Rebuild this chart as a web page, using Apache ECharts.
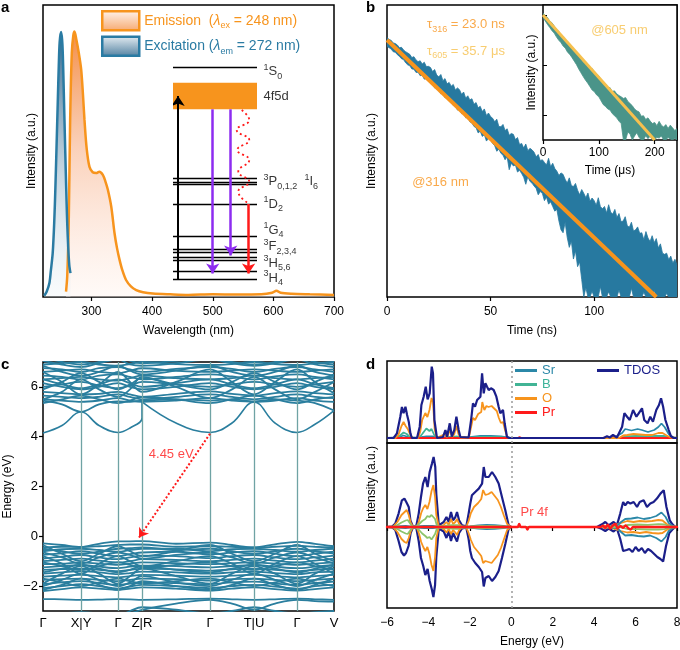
<!DOCTYPE html>
<html>
<head>
<meta charset="utf-8">
<script src="https://cdn.jsdelivr.net/npm/echarts@6/dist/echarts.min.js"></script>
<style>html,body{margin:0;padding:0;background:#fff}#chart{width:680px;height:650px}</style>
</head>
<body>
<div id="chart"></div>
<script>
const FONT = 'Liberation Sans, Arial, Helvetica, sans-serif';
const ORANGE = '#F7941D', BLUE = '#2779A0', YELLOW = '#F6C04E', TEAL = '#4A9489';
const BAND = '#2A7E9E', RED = '#FF1A1A', PURPLE = '#8D2CF0', NAVY = '#1B1F8A';

// ---- a: excitation / emission spectra (wavelength nm, normalised intensity)
const emission = [[258,0.02],[260,0.08],[262.5,0.29],[264.8,0.67],[267.5,0.92],[270,0.985],[272,1.0],[275,0.97],[279,0.92],[283,0.857],[286,0.76],[288.4,0.668],[292,0.56],[296.7,0.49],[302,0.47],[307.7,0.467],[313,0.472],[318.7,0.46],[323,0.435],[327,0.404],[332.6,0.34],[338,0.24],[342,0.185],[346.3,0.14],[351,0.1],[357,0.064],[365,0.04],[373.8,0.026],[385,0.018],[401,0.013],[430,0.01],[460,0.008],[500,0.01],[540,0.009],[580,0.01],[598,0.016],[605,0.024],[612,0.016],[630,0.012],[660,0.01],[700,0.008]];
const excitation = [[222,0.005],[226,0.02],[230.6,0.053],[233,0.1],[236,0.165],[238.5,0.28],[240.5,0.416],[242.5,0.58],[244.3,0.73],[246,0.87],[247.5,0.96],[249.8,0.998],[251.5,0.97],[252.6,0.92],[254,0.8],[255.4,0.668],[256.8,0.54],[258.2,0.416],[259.5,0.31],[260.8,0.228],[262.2,0.16],[263.6,0.114],[265.3,0.09]];
const wlTicks = [300, 400, 500, 600, 700];

// energy level scheme (arbitrary height units)
const levelHeights = [217.5, 106.5, 103, 100.5, 81, 49, 35.7, 33, 27.7, 24.8, 14, 5.3];
const band4f5d = [175.7, 202.3];
const levelText = ['{p|1}S{b|0}', '4f5d', '{p|3}P{b|0,1,2}  {p|1}I{b|6}', '{p|1}D{b|2}', '{p|1}G{b|4}', '{p|3}F{b|2,3,4}', '{p|3}H{b|5,6}', '{p|3}H{b|4}'];
const labelHeights = [213.3, 188.3, 103.3, 81, 55, 38.3, 21.7, 6.7];
const arrowX = [6, 47.3, 68.7, 90];
const arrowFrom = [5.3, 175.7, 175.7, 81];
const arrowTo = [189, 11.5, 29.5, 11.5];
const arrowColor = ['#000', PURPLE, PURPLE, RED];
const zigX = [81.8, 90.8, 75.8, 90.8, 76.6, 90.8, 77.7, 90.8, 77.7, 89.6];
const zigY = [175, 165, 155, 145, 135, 125, 113.3, 103.3, 93.3, 81.7];

// ---- b: decay curves (log intensity shown on a 0-100 scale)
const upper316 = [88.8,88.2,87.9,87.0,86.8,86.3,85.4,85.5,84.6,84.0,83.6,
  83.1,82.0,82.3,81.2,80.6,80.9,79.8,80.4,78.9,79.0,
  78.6,77.2,77.9,76.0,75.4,76.2,74.1,74.8,73.0,73.5,
  72.2,72.8,70.9,71.6,71.0,69.4,70.2,68.1,68.9,67.5,
  67.9,66.0,66.6,64.8,65.3,63.5,64.4,62.2,63.0,61.8,
  61.2,60.0,60.9,58.4,58.3,59.1,57.0,57.6,55.4,56.0,
  55.7,53.9,54.6,52.2,52.6,51.0,52.4,50.1,50.9,50.4,
  49.6,48.0,48.8,46.7,47.0,46.1,45.2,47.5,44.6,45.8,
  44.0,43.1,41.6,42.5,42.0,40.3,39.0,40.8,38.2,37.8,
  38.9,36.6,35.0,36.8,35.5,34.0,35.6,32.8,33.9,33.0,
  31.4,34.0,31.0,30.2,31.0,28.8,31.6,29.0,28.4,30.0,
  27.2,28.6,25.8,26.0,27.5,24.4,23.9,25.6,22.6,23.0,
  24.0,21.8,22.0,19.6,22.4,20.2,19.0,21.0,18.6,20.0,
  16.8,18.2,15.0,14.6,15.0,12.8,14.0,11.6,12.9,11.0];
const lower316 = [85.8,85.4,84.9,84.0,83.8,83.0,82.4,81.6,81.3,80.2,79.5,
  79.2,78.1,78.0,76.9,77.0,75.8,75.9,74.6,74.8,74.0,
  73.2,72.9,71.6,71.8,70.9,69.6,70.0,68.2,68.4,67.5,
  67.0,65.6,66.0,64.0,64.4,62.8,63.0,61.4,61.9,60.0,
  59.6,58.4,58.0,56.2,56.8,55.0,55.6,53.4,54.3,53.8,
  52.6,51.8,49.9,50.6,49.2,48.6,47.0,48.0,43.6,45.8,
  44.9,45.2,42.8,43.4,42.3,41.0,38.6,41.2,39.6,39.0,
  38.0,37.2,35.0,36.1,35.5,33.0,34.2,31.8,32.6,31.0,
  29.4,30.0,26.0,23.0,22.0,25.6,20.4,17.0,19.2,13.0,
  15.8,10.4,12.0,6.0,0,3.2,0,0,2.0,0,
  0,0,3.6,0,0,0,1.8,0,0,0, 0,2.4,0,0,0,0,0,3.0,0,0,
  0,0,0,1.6,0,0,0,0,2.2,0, 0,0,0,0,1.2,0,0,0,0,0];
const fit316T = [0, 130], fit316Y = [88, 0];
const ticks316 = [0, 50, 100];
const upper605 = [94.0,92.2,90.8,88.0,86.9,84.5,82.0,80.6,77.9,76.8,
  74.2,72.0,70.8,68.1,67.2,65.0,62.2,60.9,57.6,57.0,
  54.4,52.8,53.0,50.2,48.9,47.4,44.6,43.0,41.8,39.0,
  38.8,36.0,36.4,34.2,33.0,32.0,30.8,31.4,28.6,27.0,
  25.4,23.0,21.6,20.8,17.6,18.0,15.2,16.4,14.0,12.2,
  13.0,10.6,13.8,11.0,9.6,11.4,8.6,11.0,9.0,7.0,8.4];
const lower605 = [90.4,88.2,85.6,83.4,81.0,79.2,76.4,74.0,72.2,69.6,
  68.0,65.0,63.4,61.0,58.4,55.8,52.6,49.8,47.0,44.4,
  42.2,39.6,37.0,35.8,33.4,32.0,29.0,26.2,24.8,23.0,
  22.2,19.6,18.0,16.4,14.0,12.2,0,0,6.0,4.2,
  0,3.0,5.4,2.0,0,0,3.2,1.0,2.8,0,
  0,2.0,1.4,3.0,0,0,1.8,0.8,0,1.2,0];
const fit605T = [0, 200], fit605Y = [92.6, 0];
const ticks605 = [0, 100, 200];

// ---- c: band structure (k path positions, energies in eV)
const kPos = [0, 38, 75, 99, 167, 211, 254, 291];
const kNames = ['Γ', 'X|Y', 'Γ', 'Z|R', 'Γ', 'T|U', 'Γ', 'V'];
const kS = [0, 19, 38, 56, 75, 87, 99, 133, 167, 189, 211, 232, 254, 272, 291];
const kCB = [0, 19, 38, 56, 75, 87, 99, 99, 133, 167, 189, 211, 232, 254, 272, 291];
const lowestCB = [4.15, 4.45, 5.0, 4.45, 4.17, 4.35, 4.75, 5.4, 4.55, 4.17, 4.55, 5.4, 4.55, 4.17, 4.5, 5.05];
const valenceBands = [
  [-0.28,-0.35,-0.43,-0.3,-0.2,-0.2,-0.19,-0.3,-0.25,-0.35,-0.45,-0.32,-0.22,-0.3,-0.4],
  [-0.45,-0.42,-0.43,-0.4,-0.35,-0.33,-0.33,-0.42,-0.4,-0.42,-0.45,-0.42,-0.38,-0.42,-0.45],
  [-0.6,-0.52,-0.5,-0.55,-0.62,-0.55,-0.5,-0.5,-0.6,-0.52,-0.5,-0.55,-0.62,-0.55,-0.5],
  [-0.75,-0.68,-0.6,-0.7,-0.8,-0.72,-0.65,-0.62,-0.72,-0.65,-0.6,-0.7,-0.8,-0.7,-0.62],
  [-0.9,-0.82,-0.75,-0.85,-0.92,-0.85,-0.78,-0.8,-0.88,-0.8,-0.75,-0.85,-0.92,-0.85,-0.78],
  [-1.0,-0.95,-0.9,-0.98,-1.05,-1.0,-0.92,-0.95,-1.0,-0.95,-0.9,-0.98,-1.05,-0.98,-0.9],
  [-1.12,-1.1,-1.05,-1.1,-1.15,-1.1,-1.05,-1.08,-1.12,-1.08,-1.05,-1.1,-1.15,-1.1,-1.05],
  [-1.25,-1.2,-1.15,-1.22,-1.28,-1.22,-1.18,-1.2,-1.25,-1.2,-1.15,-1.22,-1.28,-1.22,-1.15],
  [-1.35,-1.32,-1.3,-1.35,-1.4,-1.35,-1.3,-1.33,-1.38,-1.33,-1.3,-1.35,-1.4,-1.35,-1.3],
  [-1.5,-1.45,-1.4,-1.45,-1.52,-1.48,-1.42,-1.45,-1.5,-1.45,-1.42,-1.48,-1.52,-1.45,-1.42],
  [-1.62,-1.58,-1.55,-1.6,-1.65,-1.6,-1.55,-1.58,-1.62,-1.58,-1.55,-1.6,-1.65,-1.6,-1.55],
  [-1.75,-1.72,-1.7,-1.75,-1.8,-1.75,-1.7,-1.72,-1.78,-1.72,-1.7,-1.75,-1.8,-1.75,-1.7],
  [-1.92,-1.85,-1.8,-1.88,-1.95,-1.9,-1.85,-1.88,-1.92,-1.85,-1.82,-1.9,-1.95,-1.88,-1.82],
  [-2.08,-2.0,-1.92,-2.0,-2.1,-2.02,-1.95,-2.0,-2.08,-2.0,-1.95,-2.02,-2.1,-2.0,-1.95],
  [-2.2,-2.12,-2.05,-2.1,-2.15,-2.1,-2.05,-2.1,-2.18,-2.1,-2.05,-2.12,-2.18,-2.12,-2.05],
  [-0.35,-0.7,-1.0,-0.7,-0.4,-0.6,-0.8,-0.6,-0.35,-0.7,-1.0,-0.7,-0.35,-0.7,-1.0],
  [-1.9,-1.5,-1.2,-1.5,-1.9,-1.6,-1.3,-1.6,-1.9,-1.5,-1.2,-1.5,-1.9,-1.5,-1.2],
  [-0.8,-1.1,-1.5,-1.1,-0.8,-1.0,-1.2,-1.0,-0.8,-1.1,-1.5,-1.1,-0.8,-1.1,-1.5],
  [-2.15,-1.95,-1.7,-1.95,-2.15,-2.0,-1.8,-2.0,-2.15,-1.95,-1.7,-1.95,-2.15,-1.95,-1.7],
  [-0.5,-0.6,-0.7,-0.62,-0.5,-0.48,-0.45,-0.55,-0.5,-0.6,-0.7,-0.6,-0.5,-0.6,-0.7],
  [-1.05,-1.2,-1.35,-1.2,-1.05,-1.15,-1.25,-1.15,-1.05,-1.2,-1.35,-1.2,-1.05,-1.2,-1.35],
  [-1.45,-1.3,-1.15,-1.3,-1.45,-1.35,-1.2,-1.35,-1.45,-1.3,-1.15,-1.3,-1.45,-1.3,-1.15],
  [-1.7,-1.85,-2.0,-1.85,-1.7,-1.8,-1.9,-1.8,-1.7,-1.85,-2.0,-1.85,-1.7,-1.85,-2.0],
  [-0.65,-0.85,-1.1,-0.85,-0.65,-0.75,-0.9,-0.75,-0.65,-0.85,-1.1,-0.85,-0.65,-0.85,-1.1],
  [-2.0,-1.75,-1.5,-1.75,-2.0,-1.85,-1.6,-1.85,-2.0,-1.75,-1.5,-1.75,-2.0,-1.75,-1.5],
  [-2.52,-2.53,-2.55,-2.54,-2.52,-2.53,-2.55,-2.53,-2.5,-2.53,-2.55,-2.53,-2.5,-2.53,-2.55],
  [-3.2,-3.1,-3.05,-3.1,-3.2,-3.0,-2.85,-2.95,-3.1,-3.0,-2.85,-3.0,-3.1,-3.05,-3.0],
  [-3.3,-3.2,-3.1,-3.2,-3.3,-3.1,-2.95,-2.7,-2.55,-2.7,-2.95,-2.7,-2.55,-2.6,-2.62]
];
const conductionBands = [
  [5.45,5.3,5.0,5.3,5.42,5.4,5.45,5.5,5.45,5.5,5.42,5.5,5.45,5.35,5.05],
  [5.5,5.45,5.4,5.45,5.55,5.45,5.4,5.45,5.55,5.45,5.4,5.45,5.55,5.45,5.4],
  [5.65,5.6,5.55,5.6,5.7,5.6,5.5,5.6,5.7,5.6,5.5,5.6,5.7,5.6,5.55],
  [5.8,5.75,5.7,5.72,5.8,5.7,5.6,5.72,5.82,5.72,5.65,5.75,5.82,5.75,5.7],
  [6.0,6.1,6.2,6.05,5.95,6.05,6.2,6.1,6.0,6.1,6.2,6.1,6.0,6.1,6.2],
  [6.15,6.0,5.9,6.0,6.15,6.0,5.9,6.0,6.15,6.0,5.9,6.0,6.15,6.0,5.9],
  [6.3,6.35,6.4,6.3,6.25,6.35,6.45,6.35,6.3,6.35,6.45,6.35,6.3,6.35,6.4],
  [6.45,6.4,6.3,6.45,6.5,6.4,6.3,6.4,6.5,6.42,6.3,6.42,6.5,6.4,6.3],
  [6.6,6.65,6.7,6.6,6.55,6.65,6.75,6.65,6.6,6.65,6.7,6.65,6.6,6.65,6.7],
  [6.75,6.7,6.6,6.75,6.8,6.7,6.6,6.72,6.8,6.72,6.6,6.72,6.8,6.7,6.6],
  [6.9,6.95,7.0,6.9,6.85,6.92,7.0,6.92,6.88,6.92,7.0,6.92,6.88,6.95,7.0],
  [7.05,6.9,6.8,6.95,7.1,6.9,6.85,6.95,7.1,6.95,6.85,6.95,7.1,6.9,6.8],
  [5.5,5.8,6.3,5.9,5.6,5.9,6.4,6.0,5.55,5.9,6.4,5.9,5.5,5.8,6.2],
  [6.6,6.2,5.7,6.1,6.6,6.2,5.8,6.2,6.7,6.2,5.7,6.2,6.7,6.2,5.75],
  [5.35,5.5,5.65,5.5,5.35,5.45,5.6,5.5,5.35,5.5,5.65,5.5,5.35,5.5,5.6],
  [6.3,6.1,5.95,6.1,6.3,6.15,6.0,6.15,6.3,6.1,5.95,6.1,6.3,6.1,5.95],
  [6.85,6.6,6.45,6.6,6.85,6.65,6.5,6.65,6.85,6.6,6.45,6.6,6.85,6.6,6.45],
  [5.9,6.2,6.55,6.2,5.9,6.1,6.35,6.1,5.9,6.2,6.55,6.2,5.9,6.2,6.5],
  [7.2,7.0,6.9,7.0,7.2,7.05,6.95,7.05,7.2,7.0,6.9,7.0,7.2,7.0,6.9]
];
const gapArrowK = [167, 96], gapArrowE = [4.12, -0.05];

// ---- d: density of states [energy eV, states]
const dosTopTDOS = [[-6,0],[-5.68,0],[-5.52,4.7],[-5.36,21],[-5.28,31],[-5.2,24.7],[-5.11,31.3],[-5.03,23],[-4.95,16.3],[-4.87,4.7],[-4.8,0],[-4.55,0],[-4.42,11.3],[-4.34,33],[-4.23,41.3],[-4.13,51.3],[-4.04,38.7],[-3.94,44.7],[-3.84,71.3],[-3.78,64.7],[-3.71,18],[-3.59,0],[-3.3,1],[-3.18,8],[-3.1,1],[-2.97,14.7],[-2.87,1.5],[-2.75,8],[-2.65,21.3],[-2.54,8],[-2.46,1],[-2.06,0.5],[-1.94,18],[-1.85,34.7],[-1.75,31.3],[-1.65,38],[-1.49,41.3],[-1.41,64.7],[-1.33,44.7],[-1.25,54.7],[-1.17,51.3],[-1.09,48],[-0.98,49.7],[-0.85,48],[-0.72,41.3],[-0.61,31.3],[-0.53,24.7],[-0.4,28],[-0.32,14.7],[-0.21,1.3],[-0.1,0],[4.46,0],[4.62,1.7],[4.75,0.5],[4.91,3],[5.1,0.5],[5.35,11.3],[5.46,24.7],[5.59,21.3],[5.72,18],[5.88,28],[6.04,21.3],[6.15,24.7],[6.31,29.7],[6.42,18],[6.58,14.7],[6.71,21.3],[6.84,16.3],[7.0,28],[7.13,33],[7.23,39.7],[7.33,31.3],[7.44,18],[7.6,8],[7.71,1.7],[7.84,0],[8,0]];
const dosTopO = [[-6,0],[-5.6,0],[-5.45,3],[-5.3,12],[-5.2,16],[-5.1,12],[-5.0,9],[-4.85,2],[-4.75,0],[-4.5,0],[-4.4,6],[-4.3,18],[-4.15,25],[-4.05,21],[-3.95,28],[-3.85,40],[-3.78,36],[-3.7,9],[-3.6,0],[-3.2,4],[-3.1,0.5],[-2.97,8],[-2.85,1],[-2.75,4],[-2.65,12],[-2.55,4],[-2.45,0.5],[-2.05,0.5],[-1.95,10],[-1.85,20],[-1.75,18],[-1.6,24],[-1.45,26],[-1.4,36],[-1.3,28],[-1.2,32],[-1.1,31],[-0.95,32],[-0.85,30],[-0.7,27],[-0.6,20],[-0.5,15],[-0.4,16],[-0.3,8],[-0.2,1],[-0.1,0],[5.2,0],[5.4,2.5],[5.6,3],[5.9,4],[6.2,3.5],[6.5,3],[6.8,3],[7.1,5],[7.3,5],[7.5,2.5],[7.7,0.5],[8,0]];
const dosTopB = [[-6,0],[-5.55,0],[-5.4,2],[-5.2,5.5],[-5.05,4],[-4.9,1],[-4.75,0],[-4.45,0],[-4.3,4],[-4.1,9.5],[-3.95,7],[-3.85,9],[-3.72,3],[-3.6,0],[-3.2,0.5],[-2.9,1.2],[-2.6,1.5],[-2.4,0.3],[-2.0,0.3],[-1.5,1.0],[-1.0,1.0],[-0.5,0.8],[-0.2,0.2],[0,0],[5.2,0],[5.5,1.5],[6.0,2],[6.5,1.8],[7.0,2.2],[7.4,2],[7.7,0.5],[8,0]];
const dosTopSr = [[-6,0],[-5.5,0.5],[-5.2,2.5],[-4.9,0.5],[-4.5,0.3],[-4.1,1.5],[-3.8,1.5],[-3.5,0.3],[-2.0,0.8],[-1.5,2.0],[-1.0,2.2],[-0.5,1.5],[-0.2,0.5],[0,0],[4.6,0.2],[5.0,0.8],[5.35,5],[5.5,9],[5.8,7.5],[6.1,9],[6.3,8],[6.6,6],[6.9,8],[7.1,11],[7.25,14.5],[7.4,11],[7.6,4],[7.8,0.5],[8,0]];
const dosTopPr = [[-6,0],[0.3,0],[0.4,0.8],[0.5,0],[4.4,0],[4.6,0.6],[4.8,0],[5.0,0.8],[5.2,0],[8,0]];
const dosUpTDOS = [[-6,0],[-5.75,0.5],[-5.6,3.4],[-5.44,13.4],[-5.28,26.7],[-5.16,28.4],[-5.07,25],[-4.95,20],[-4.87,6.7],[-4.74,0],[-4.58,1.5],[-4.47,13.4],[-4.36,30],[-4.26,43.4],[-4.15,50],[-4.04,40],[-3.94,55],[-3.83,63.4],[-3.75,70],[-3.67,60],[-3.62,33],[-3.5,1.7],[-3.26,5],[-3.13,10],[-3.02,5],[-2.91,15],[-2.81,6.7],[-2.7,10],[-2.62,15],[-2.52,6.7],[-2.38,1.7],[-2.17,0.7],[-2.06,13.4],[-1.98,23.4],[-1.9,31.7],[-1.74,35],[-1.57,38.4],[-1.41,43.4],[-1.33,60],[-1.25,50],[-1.09,50],[-0.93,55],[-0.77,50],[-0.61,43.4],[-0.45,30],[-0.29,16.7],[-0.13,1.7],[0,0],[4.14,0],[4.38,2.7],[4.54,5],[4.7,1.7],[4.94,5],[5.1,1.7],[5.26,13.4],[5.4,25],[5.5,21.7],[5.62,25],[5.75,23.4],[5.91,25],[6.07,20],[6.2,25],[6.39,26.7],[6.55,20],[6.71,23.4],[6.87,25],[7.03,28.4],[7.2,33.4],[7.36,36.7],[7.49,20],[7.65,6.7],[7.78,2.7],[7.92,0],[8,0]];
const dosDnTDOS = [[-6,0],[-5.75,-0.5],[-5.6,-3],[-5.44,-14],[-5.3,-25],[-5.18,-28.5],[-5.08,-26],[-4.96,-19],[-4.86,-6],[-4.74,0],[-4.58,-1.5],[-4.47,-14],[-4.36,-31],[-4.25,-39],[-4.15,-48],[-4.04,-42],[-3.94,-54],[-3.84,-62],[-3.76,-70],[-3.68,-58],[-3.62,-30],[-3.5,-1.5],[-3.26,-4.5],[-3.13,-11],[-3.02,-4],[-2.91,-14],[-2.81,-6],[-2.7,-11],[-2.62,-14.5],[-2.52,-6],[-2.38,-1.5],[-2.17,-0.7],[-2.06,-12],[-1.98,-24],[-1.9,-31],[-1.74,-36],[-1.57,-40],[-1.41,-45],[-1.33,-59.5],[-1.25,-51],[-1.09,-49],[-0.93,-54],[-0.77,-50],[-0.61,-44],[-0.45,-31],[-0.29,-17],[-0.13,-2],[0,0],[4.14,0],[4.38,-2],[4.54,-4],[4.7,-1.5],[4.94,-4.5],[5.1,-1.5],[5.26,-12],[5.4,-24],[5.57,-23],[5.7,-22],[5.85,-25],[6.0,-20],[6.15,-24],[6.3,-21],[6.45,-26],[6.6,-22],[6.75,-24],[6.9,-27],[7.05,-30],[7.2,-32],[7.33,-34.5],[7.47,-19],[7.63,-6],[7.78,-2.5],[7.92,0],[8,0]];
const dosUpO = [[-6,0],[-5.7,0.5],[-5.5,5],[-5.3,12],[-5.15,15],[-5.05,17],[-4.95,12],[-4.85,4],[-4.74,0],[-4.55,1],[-4.45,6],[-4.35,14],[-4.25,19],[-4.15,22],[-4.05,18],[-3.95,25],[-3.85,36],[-3.76,42],[-3.68,30],[-3.62,12],[-3.5,0.5],[-3.26,2],[-3.13,5],[-3.02,2],[-2.91,8],[-2.81,3],[-2.7,5],[-2.62,8],[-2.52,3],[-2.38,0.5],[-2.17,0.3],[-2.06,6],[-1.95,14],[-1.8,20],[-1.6,24],[-1.45,28],[-1.36,37],[-1.25,32],[-1.1,33],[-0.95,35],[-0.8,31],[-0.65,27],[-0.5,20],[-0.35,11],[-0.2,3],[0,0],[4.3,0],[4.5,1.5],[4.7,0.5],[5.0,2],[5.3,4],[5.6,6],[5.9,5],[6.2,6],[6.5,5.5],[6.8,6],[7.1,7],[7.3,6.5],[7.5,3],[7.7,1],[8,0]];
const dosDnO = [[-6,0],[-5.7,-0.5],[-5.5,-5],[-5.3,-12],[-5.15,-15],[-5.05,-16],[-4.95,-11],[-4.85,-4],[-4.74,0],[-4.55,-1],[-4.45,-7],[-4.35,-15],[-4.25,-20],[-4.15,-24],[-4.05,-20],[-3.95,-27],[-3.85,-38],[-3.76,-44],[-3.68,-30],[-3.62,-11],[-3.5,-0.5],[-3.26,-2],[-3.13,-5.5],[-3.02,-2],[-2.91,-7],[-2.81,-3],[-2.7,-5.5],[-2.62,-8],[-2.52,-3],[-2.38,-0.5],[-2.17,-0.3],[-2.06,-6],[-1.95,-13],[-1.8,-20],[-1.6,-25],[-1.45,-29],[-1.36,-36],[-1.25,-34],[-1.1,-35],[-0.95,-36],[-0.8,-32],[-0.65,-28],[-0.5,-21],[-0.35,-12],[-0.2,-3],[0,0],[4.3,0],[4.5,-1],[4.7,-0.5],[5.0,-2],[5.3,-4],[5.6,-5.5],[5.9,-5],[6.2,-6],[6.5,-5],[6.8,-6],[7.1,-6.5],[7.3,-6],[7.5,-3],[7.7,-1],[8,0]];
const dosUpB = [[-6,0],[-5.7,0.3],[-5.5,2],[-5.3,4.5],[-5.1,6.5],[-5.0,7],[-4.9,4],[-4.78,0.5],[-4.6,0.5],[-4.45,3],[-4.3,6],[-4.15,8],[-4.05,11],[-3.95,10],[-3.85,12],[-3.76,12.5],[-3.68,8],[-3.6,2],[-3.5,0.3],[-3.2,1],[-2.9,1.8],[-2.6,1.8],[-2.4,0.3],[-2.0,0.5],[-1.5,1],[-1.0,1],[-0.5,0.8],[-0.2,0.3],[0,0],[5.2,0],[5.6,2],[6.1,2.5],[6.6,2.2],[7.1,2.8],[7.4,2.5],[7.7,0.5],[8,0]];
const dosDnB = [[-6,0],[-5.7,-0.3],[-5.5,-2],[-5.3,-4.5],[-5.1,-6.5],[-5.0,-7],[-4.9,-4],[-4.78,-0.5],[-4.6,-0.5],[-4.45,-3],[-4.3,-6.5],[-4.15,-9],[-4.05,-11],[-3.95,-10],[-3.85,-12.5],[-3.76,-12],[-3.68,-7],[-3.6,-2],[-3.5,-0.3],[-3.2,-1],[-2.9,-1.5],[-2.6,-1.8],[-2.4,-0.3],[-2.0,-0.5],[-1.5,-1],[-1.0,-1.2],[-0.5,-0.8],[-0.2,-0.3],[0,0],[5.2,0],[5.6,-2],[6.1,-2.2],[6.6,-2.5],[7.1,-2.5],[7.4,-2.2],[7.7,-0.5],[8,0]];
const dosUpSr = [[-6,0],[-5.5,0.5],[-5.1,1],[-4.8,0.3],[-4.2,1],[-3.8,1.2],[-3.5,0.3],[-2.0,0.5],[-1.6,1.5],[-1.2,2],[-0.8,1.8],[-0.4,1],[-0.1,0.3],[0,0],[4.5,0],[4.8,0.5],[5.1,1],[5.3,5],[5.5,8],[5.8,8.5],[6.1,9.5],[6.4,8],[6.7,9],[7.0,11],[7.25,14.5],[7.45,10],[7.6,4],[7.8,1],[8,0]];
const dosDnSr = [[-6,0],[-5.5,-0.5],[-5.1,-1],[-4.8,-0.3],[-4.2,-1],[-3.8,-1.2],[-3.5,-0.3],[-2.0,-0.5],[-1.6,-1.5],[-1.2,-2],[-0.8,-1.8],[-0.4,-1],[-0.1,-0.3],[0,0],[4.5,0],[4.8,-0.5],[5.1,-1],[5.3,-5],[5.5,-8.5],[5.8,-8],[6.1,-9],[6.4,-9.5],[6.7,-8.5],[7.0,-11],[7.25,-14.5],[7.45,-10],[7.6,-4],[7.8,-1],[8,0]];
const dosPr = [[-6,0],[0.3,0],[0.38,3],[0.46,0],[0.7,0],[0.78,-2.5],[0.86,0],[4.3,0],[4.42,1.2],[4.54,-0.8],[4.66,2.2],[4.78,-1.5],[4.9,1.5],[5.02,3],[5.14,-1.5],[5.26,1],[5.4,-0.8],[5.52,1.5],[5.64,-1],[5.76,-2.5],[5.88,0],[8,0]];

// ---------------------------------------------------------------
const chart = echarts.init(document.getElementById('chart'), null, {renderer: 'canvas'});
const minus = v => String(v).replace('-', '\u2212');
const lab = {color: '#000', fontSize: 12, fontFamily: FONT};
const nameStyle = {color: '#000', fontSize: 12, fontFamily: FONT};
const tick = {show: true, inside: false, length: 4, lineStyle: {color: '#000', width: 1.2}};

function box(left, top, width, height, extra) {
  return Object.assign({left, top, width, height, show: true, borderColor: '#000', borderWidth: 1.5,
    backgroundColor: 'transparent', containLabel: false, outerBoundsMode: 'none'}, extra || {});
}
function axis(gridIndex, extra) {
  return Object.assign({type: 'value', gridIndex, axisLine: {show: false}, splitLine: {show: false},
    axisTick: {show: false}, axisLabel: {show: false}, nameMoveOverlap: false}, extra);
}
function line(xi, data, color, width, extra) {
  return Object.assign({type: 'line', xAxisIndex: xi, yAxisIndex: xi, data, symbol: 'none', silent: true,
    lineStyle: {color, width}, itemStyle: {color}}, extra || {});
}
// noisy decay data drawn as the band between its upper and lower traces
function decayBand(xi, ts, up, lo, color, z) {
  return {type: 'custom', xAxisIndex: xi, yAxisIndex: xi, silent: true, z, clip: true,
    data: [[ts[0], lo[0]]],
    renderItem: (params, api) => {
      const pts = ts.map((t, i) => api.coord([t, up[i]]));
      for (let i = ts.length - 1; i >= 0; i--) pts.push(api.coord([ts[i], lo[i]]));
      return {type: 'polygon', shape: {points: pts}, style: {fill: color, stroke: color, lineWidth: 0.8}};
    }};
}
function note(xi, x, y, text, rich, size) {
  return {type: 'scatter', xAxisIndex: xi, yAxisIndex: xi, symbolSize: 1, silent: true, z: 8,
    itemStyle: {color: 'transparent'}, data: [[x, y]],
    label: {show: true, position: 'right', distance: 0, formatter: text, fontFamily: FONT,
      fontSize: size || 13, lineHeight: 18, rich}};
}
const sub = (c) => ({color: c, fontSize: 9, verticalAlign: 'bottom', lineHeight: 10, fontFamily: FONT});
const txt = (c, s) => ({color: c, fontSize: s || 13, fontFamily: FONT});

const emisGrad = new echarts.graphic.LinearGradient(0, 0, 0, 1, [
  {offset: 0, color: 'rgba(243,135,60,0.95)'}, {offset: 0.45, color: 'rgba(249,195,165,0.75)'},
  {offset: 1, color: 'rgba(255,242,236,0.4)'}]);
const excGrad = new echarts.graphic.LinearGradient(0, 0, 0, 1, [
  {offset: 0, color: 'rgba(40,95,135,0.95)'}, {offset: 0.5, color: 'rgba(150,180,200,0.6)'},
  {offset: 1, color: 'rgba(235,242,246,0.3)'}]);
const emisBox = new echarts.graphic.LinearGradient(0, 0, 0, 1, [
  {offset: 0, color: '#fff5ef'}, {offset: 1, color: '#f6a86e'}]);
const excBox = new echarts.graphic.LinearGradient(0, 0, 0, 1, [
  {offset: 0, color: '#e8eff4'}, {offset: 1, color: '#4f7f9f'}]);

const series = [];
// a
series.push(line(0, emission, ORANGE, 2.5, {name: 'Emission', smooth: 0.3, areaStyle: {color: emisGrad, opacity: 1}}));
series.push(line(0, excitation, '#2A7BA3', 2.5, {name: 'Excitation', smooth: 0.3, areaStyle: {color: excGrad, opacity: 1}}));
// scheme
series.push({type: 'lines', coordinateSystem: 'cartesian2d', xAxisIndex: 1, yAxisIndex: 1, silent: true, z: 4,
  data: levelHeights.map(h => ({coords: [[0, h], [100, h]]})), lineStyle: {color: '#000', width: 1.3, opacity: 1}});
series.push({type: 'scatter', xAxisIndex: 1, yAxisIndex: 1, symbolSize: 1, silent: true, z: 3,
  itemStyle: {color: 'transparent'},
  data: labelHeights.map((h, i) => ({value: [100, h], label: {formatter: levelText[i]}})),
  label: {show: true, position: 'right', distance: 6, color: '#000', fontSize: 13, lineHeight: 18, fontFamily: FONT,
    rich: {p: {color: '#000', fontSize: 9, verticalAlign: 'top', lineHeight: 10, fontFamily: FONT}, b: sub('#000')}},
  markArea: {silent: true, itemStyle: {color: ORANGE, opacity: 1}, label: {show: false},
    data: [[{coord: [0, band4f5d[0]]}, {coord: [100, band4f5d[1]]}]]}});
series.push({type: 'lines', coordinateSystem: 'cartesian2d', xAxisIndex: 1, yAxisIndex: 1, silent: true, z: 6,
  symbol: ['none', 'arrow'], symbolSize: 10,
  data: arrowX.map((x, i) => ({coords: [[x, arrowFrom[i]], [x, arrowTo[i]]],
    lineStyle: {color: arrowColor[i], width: i === 0 ? 2 : 2.5, opacity: 1}}))});
series.push(line(1, zigX.map((x, i) => [x, zigY[i]]), RED, 1.8, {smooth: 0.5, z: 6,
  lineStyle: {color: RED, width: 1.8, type: [2, 3]}}));
// b
const t316 = upper316.map((_, i) => i);
series.push(decayBand(2, t316, upper316, lower316, BLUE, 2));
series.push(line(2, fit316T.map((t, i) => [t, fit316Y[i]]), ORANGE, 4, {z: 4}));
const t605 = upper605.map((_, i) => i * 4);
series.push(decayBand(3, t605, upper605, lower605, TEAL, 5));
series.push(line(3, fit605T.map((t, i) => [t, fit605Y[i]]), YELLOW, 3, {z: 6}));
series.push(note(2, 19.1, 93.2, '{t|τ}{s|316}{t| = 23.0 ns}', {t: txt(ORANGE), s: sub(ORANGE)}));
series.push(note(2, 19.1, 84.2, '{t|τ}{s|605}{t| = 35.7 μs}', {t: txt(YELLOW), s: sub(YELLOW)}));
series.push(note(2, 11.9, 39.4, '{t|@316 nm}', {t: txt(ORANGE)}));
series.push(note(3, 85.4, 81.5, '{t|@605 nm}', {t: txt(YELLOW)}));
// c
valenceBands.concat(conductionBands).forEach(b => {
  series.push(line(4, kS.map((k, i) => [k, b[i]]), BAND, 1.8, {smooth: 0.35}));
});
series.push(line(4, kCB.map((k, i) => [k, lowestCB[i]]), BAND, 1.6, {smooth: 0.4,
  markLine: {silent: true, symbol: ['none', 'none'], label: {show: false},
    lineStyle: {color: '#6FA3A4', width: 1.3, type: 'solid'},
    data: kPos.slice(1, -1).map(k => ({xAxis: k}))}}));
series.push({type: 'lines', coordinateSystem: 'cartesian2d', xAxisIndex: 4, yAxisIndex: 4, silent: true, z: 6,
  symbol: ['none', 'arrow'], symbolSize: 9,
  data: [{coords: gapArrowK.map((k, i) => [k, gapArrowE[i]])}],
  lineStyle: {color: RED, width: 2, type: [2, 2], opacity: 1}});
series.push(note(4, 105.3, 3.28, '{t|4.45 eV}', {t: txt(RED)}));
// d top
const zeroLine = {silent: true, symbol: ['none', 'none'], label: {show: false},
  lineStyle: {color: '#9a9a9a', width: 1.5, type: [2, 3]}, data: [{xAxis: 0}]};
series.push(line(5, dosTopSr, '#2B88A8', 1.8, {name: 'Sr', markLine: zeroLine}));
series.push(line(5, dosTopB, '#41B495', 1.8, {name: 'B'}));
series.push(line(5, dosTopPr, RED, 1.8, {name: 'Pr'}));
series.push(line(5, dosTopO, ORANGE, 1.8, {name: 'O'}));
series.push(line(5, dosTopTDOS, NAVY, 2.2, {name: 'TDOS'}));
// d bottom
series.push(line(6, dosUpTDOS, NAVY, 2.2, {name: 'TDOS', markLine: zeroLine}));
series.push(line(6, dosDnTDOS, NAVY, 2.2, {name: 'TDOS'}));
series.push(line(6, dosUpO, ORANGE, 1.8, {name: 'O'}));
series.push(line(6, dosDnO, ORANGE, 1.8, {name: 'O'}));
series.push(line(6, dosUpSr, '#2B88A8', 1.8, {name: 'Sr'}));
series.push(line(6, dosDnSr, '#2B88A8', 1.8, {name: 'Sr'}));
series.push(line(6, dosUpB, '#8CC46B', 1.8, {name: 'B'}));
series.push(line(6, dosDnB, '#8CC46B', 1.8, {name: 'B'}));
series.push(line(6, dosPr, RED, 2.4, {name: 'Pr', z: 5, smooth: 0.3,
  lineStyle: {color: RED, width: 2.4, join: 'round', cap: 'round'}}));
series.push(note(6, 0.42, 15, '{t|Pr 4f}', {t: txt(RED)}));

const option = {
  animation: false,
  backgroundColor: '#fff',
  textStyle: {fontFamily: FONT},
  grid: [
    box(43, 5, 291, 292),
    box(173, 60, 84, 225, {show: false}),
    box(387, 5, 290, 292),
    box(543, 5, 134, 135, {backgroundColor: '#fff', z: 3}),
    box(43, 362, 291, 249),
    box(387, 361, 290, 82),
    box(387, 443, 290, 165)
  ],
  xAxis: [
    axis(0, {min: 220, max: 700, axisTick: Object.assign({customValues: wlTicks}, tick),
      axisLabel: Object.assign({show: true, customValues: wlTicks, margin: 9}, lab),
      name: 'Wavelength (nm)', nameLocation: 'middle', nameGap: 28, nameTextStyle: nameStyle}),
    axis(1, {min: 0, max: 100, show: false}),
    axis(2, {min: 0, max: 140, axisTick: Object.assign({customValues: ticks316}, tick),
      axisLabel: Object.assign({show: true, customValues: ticks316, margin: 9}, lab),
      name: 'Time (ns)', nameLocation: 'middle', nameGap: 28, nameTextStyle: nameStyle}),
    axis(3, {min: 0, max: 240, z: 5, axisTick: Object.assign({customValues: ticks605}, tick),
      axisLabel: Object.assign({show: true, customValues: ticks605, margin: 7}, lab),
      name: 'Time (μs)', nameLocation: 'middle', nameGap: 25, nameTextStyle: nameStyle}),
    axis(4, {min: 0, max: 291,
      axisLabel: Object.assign({show: true, customValues: kPos, margin: 6,
        formatter: v => kNames[kPos.indexOf(v)]}, lab, {fontSize: 13})}),
    axis(5, {min: -6, max: 8, show: false}),
    axis(6, {min: -6, max: 8, interval: 2, axisTick: tick,
      axisLabel: Object.assign({show: true, margin: 9, formatter: minus}, lab),
      name: 'Energy (eV)', nameLocation: 'middle', nameGap: 28, nameTextStyle: nameStyle})
  ],
  yAxis: [
    axis(0, {min: 0, max: 1.1, name: 'Intensity (a.u.)', nameLocation: 'middle', nameGap: 5, nameTextStyle: nameStyle}),
    axis(1, {min: 0, max: 225, show: false}),
    axis(2, {min: 0, max: 100, name: 'Intensity (a.u.)', nameLocation: 'middle', nameGap: 9, nameTextStyle: nameStyle}),
    axis(3, {min: 0, max: 100, z: 5, axisTick: {show: true, inside: true, length: 4, customValues: [18.5, 55.6, 92.6],
      lineStyle: {color: '#000', width: 1}},
      name: 'Intensity (a.u.)', nameLocation: 'middle', nameGap: 5, nameTextStyle: nameStyle}),
    axis(4, {min: -3, max: 7, axisTick: Object.assign({customValues: [-2, 0, 2, 4, 6]}, tick),
      axisLabel: Object.assign({show: true, customValues: [-2, 0, 2, 4, 6], margin: 5, formatter: minus}, lab, {fontSize: 13}),
      name: 'Energy (eV)', nameLocation: 'middle', nameGap: 29, nameTextStyle: nameStyle}),
    axis(5, {min: -5, max: 77, show: false}),
    axis(6, {min: -81, max: 84, show: false})
  ],
  legend: [
    {left: 101, top: 10, orient: 'vertical', itemGap: 4, itemWidth: 37, itemHeight: 19, padding: 0, icon: 'rect',
      selectedMode: false,
      data: [
        {name: 'Emission', itemStyle: {color: emisBox, borderColor: ORANGE, borderWidth: 2.5}},
        {name: 'Excitation', itemStyle: {color: excBox, borderColor: '#2A7BA3', borderWidth: 2.5}}],
      formatter: n => n === 'Emission' ? '{o|Emission  (}{oi|λ}{os|ex}{o| = 248 nm)}'
        : '{b|Excitation (}{bi|λ}{bs|em}{b| = 272 nm)}',
      textStyle: {fontSize: 14, lineHeight: 19, fontFamily: FONT, rich: {
        o: txt(ORANGE, 14), oi: Object.assign(txt(ORANGE, 14), {fontStyle: 'italic'}), os: sub(ORANGE),
        b: txt('#2A7BA3', 14), bi: Object.assign(txt('#2A7BA3', 14), {fontStyle: 'italic'}), bs: sub('#2A7BA3')}}},
    {left: 515, top: 364, orient: 'vertical', itemGap: 1, itemWidth: 22, itemHeight: 3, padding: 0, icon: 'rect',
      selectedMode: false,
      data: [{name: 'Sr', textStyle: {color: '#2B88A8'}}, {name: 'B', textStyle: {color: '#3DB39A'}},
        {name: 'O', textStyle: {color: ORANGE}}, {name: 'Pr', textStyle: {color: RED}}],
      textStyle: {fontSize: 13, fontFamily: FONT}},
    {left: 597, top: 364, orient: 'vertical', itemWidth: 22, itemHeight: 3, padding: 0, icon: 'rect',
      selectedMode: false,
      data: [{name: 'TDOS', textStyle: {color: NAVY}}], textStyle: {fontSize: 13, fontFamily: FONT}}
  ],
  graphic: [
    {type: 'text', left: 1, top: 0, style: {text: 'a', font: 'bold 15px ' + FONT, fill: '#000'}},
    {type: 'text', left: 366, top: 0, style: {text: 'b', font: 'bold 15px ' + FONT, fill: '#000'}},
    {type: 'text', left: 1, top: 357, style: {text: 'c', font: 'bold 15px ' + FONT, fill: '#000'}},
    {type: 'text', left: 366, top: 357, style: {text: 'd', font: 'bold 15px ' + FONT, fill: '#000'}},
    {type: 'text', x: 372, y: 484, rotation: Math.PI / 2,
      style: {text: 'Intensity (a.u.)', align: 'center', verticalAlign: 'middle', font: '12px ' + FONT, fill: '#000'}}
  ],
  series
};
chart.setOption(option);
</script>
</body>
</html>
